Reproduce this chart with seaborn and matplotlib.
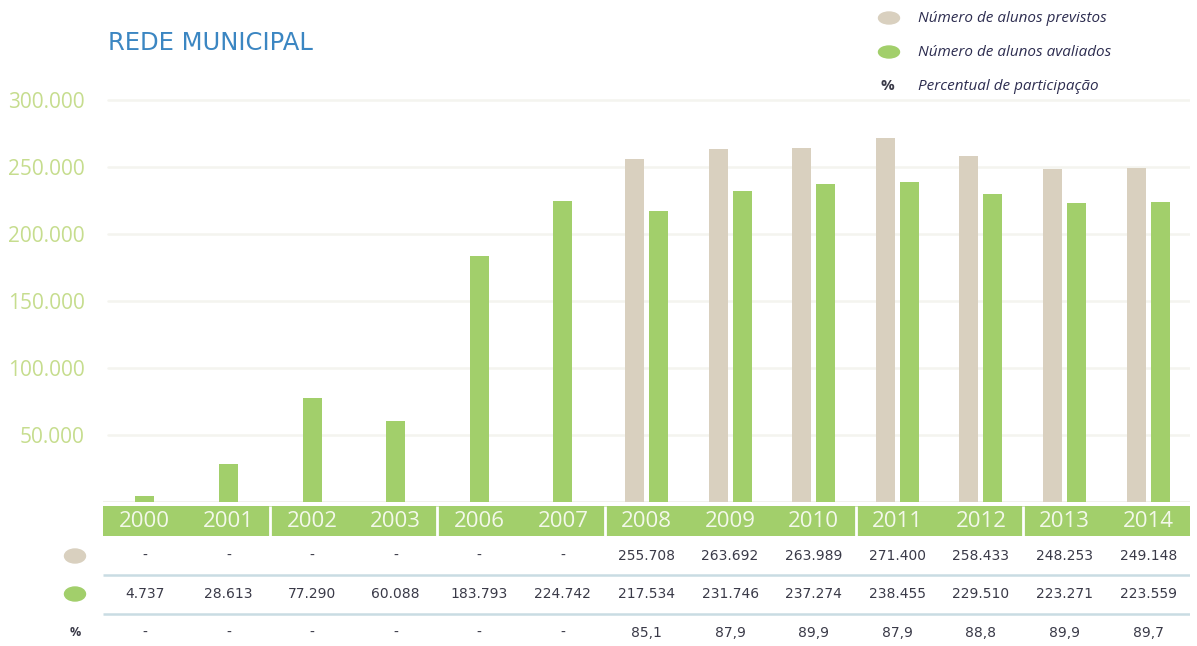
import matplotlib.pyplot as plt
import matplotlib.patches as mpatches
import numpy as np
import pandas as pd
import seaborn as sns

# data
years = ["2000", "2001", "2002", "2003", "2006", "2007", "2008",
         "2009", "2010", "2011", "2012", "2013", "2014"]
previstos = [None, None, None, None, None, None, 255708,
             263692, 263989, 271400, 258433, 248253, 249148]
avaliados = [4737, 28613, 77290, 60088, 183793, 224742, 217534,
             231746, 237274, 238455, 229510, 223271, 223559]
percentual = [None, None, None, None, None, None, 85.1,
              87.9, 89.9, 87.9, 88.8, 89.9, 89.7]
group_sizes = [2, 2, 2, 3, 2, 2]
y_ticks = [50000, 100000, 150000, 200000, 250000, 300000]

BEIGE = "#d9d0bf"
GREEN = "#a2cf6b"
TXT = "#3a3a48"
W, H = 1197, 646


def fmt_int(v):
    return "-" if v is None else f"{v:,}".replace(",", ".")


def fmt_pct(v):
    return "-" if v is None else f"{v:.1f}".replace(".", ",")


sns.set_theme(style="white")
plt.rcParams["font.family"] = ["Open Sans", "DejaVu Sans"]

fig = plt.figure(figsize=(W / 100, H / 100), dpi=100)

# main bar axes, pixel layout from the reference
left, right = 103 / W, 1190 / W
base_px, top_px = 502, 86.6
ax = fig.add_axes([left, (H - base_px) / H, right - left, (base_px - top_px) / H])
ax.set_facecolor("none")

pos = np.arange(len(years))
single = pd.DataFrame({"pos": pos, "avaliados": avaliados,
                       "prev": previstos})
single = single[single["prev"].isna()]
sns.barplot(data=single, x="pos", y="avaliados", native_scale=True,
            width=0.227, color=GREEN, saturation=1, linewidth=0,
            errorbar=None, ax=ax)

paired = pd.DataFrame({"pos": pos, "Previstos": previstos,
                       "Avaliados": avaliados})
paired = paired[paired["Previstos"].notna()]
long = paired.melt(id_vars="pos", var_name="serie", value_name="alunos")
sns.barplot(data=long, x="pos", y="alunos", hue="serie", native_scale=True,
            width=0.574, gap=0.21, palette=[BEIGE, GREEN], saturation=1,
            linewidth=0, errorbar=None, legend=False, ax=ax)

ax.set_xlim(-0.5, len(years) - 0.5)
ax.set_ylim(0, 310000)
ax.set_xticks([])
ax.set_xlabel("")
ax.set_ylabel("")
ax.set_yticks(y_ticks)
ax.set_yticklabels([fmt_int(v) for v in y_ticks], color="#c6dd8e", fontsize=15)
ax.tick_params(axis="y", length=0, pad=13)
for v in y_ticks:
    ax.axhline(v, xmin=5 / 1087, color="#f4f4ef", lw=1.8, zorder=0)
ax.axhline(0, color="#f0f0ea", lw=1.5, zorder=0)
for s in ax.spines.values():
    s.set_visible(False)

# table axes below the bars, y in pixels from the top
tx = fig.add_axes([left, 0, right - left, (H - base_px) / H])
tx.set_xlim(-0.5, len(years) - 0.5)
tx.set_ylim(H, base_px)
tx.axis("off")
tx.add_patch(mpatches.Rectangle((-0.5, 506), len(years), 30, color=GREEN, lw=0))
edges = np.cumsum(group_sizes)[:-1] - 0.5
tx.vlines(edges, 506, 536, color="white", lw=2)
for i, y in enumerate(years):
    tx.text(i, 521.5, y, ha="center", va="center", color="#f3f8ea", fontsize=16)
for yl in (575, 614):
    tx.hlines(yl, -0.5, len(years) - 0.5, color="#c9dce3", lw=1.8)
num_font = dict(ha="center", va="center", color=TXT, fontsize=10,
                family="DejaVu Sans")
for i in range(len(years)):
    tx.text(i, 556, fmt_int(previstos[i]), **num_font)
    tx.text(i, 594, fmt_int(avaliados[i]), **num_font)
    tx.text(i, 633, fmt_pct(percentual[i]), **num_font)

# overlay for title, legend and row markers
ov = fig.add_axes([0, 0, 1, 1], zorder=5)
ov.set_xlim(0, W)
ov.set_ylim(H, 0)
ov.axis("off")
ov.text(108, 43, "REDE MUNICIPAL", color="#3b86c2", fontsize=17.5,
        family="DejaVu Sans", ha="left", va="center")
ov.add_patch(mpatches.Ellipse((889, 18), 21, 12, color=BEIGE))
ov.add_patch(mpatches.Ellipse((889, 52), 21, 12, color=GREEN))
ov.text(887, 86, "%", ha="center", va="center", fontsize=11,
        fontweight="bold", color=TXT)
legend_labels = ["Número de alunos previstos", "Número de alunos avaliados",
                 "Percentual de participação"]
for yy, lab in zip((18, 52, 86), legend_labels):
    ov.text(918, yy, lab, ha="left", va="center", fontsize=11,
            fontstyle="italic", color="#2d2d50")
ov.add_patch(mpatches.Ellipse((75, 556), 21, 14, color=BEIGE))
ov.add_patch(mpatches.Ellipse((75, 594), 21, 14, color=GREEN))
ov.text(75, 633, "%", ha="center", va="center", fontsize=9,
        fontweight="bold", color=TXT)

fig.savefig("out.png", dpi=100)
